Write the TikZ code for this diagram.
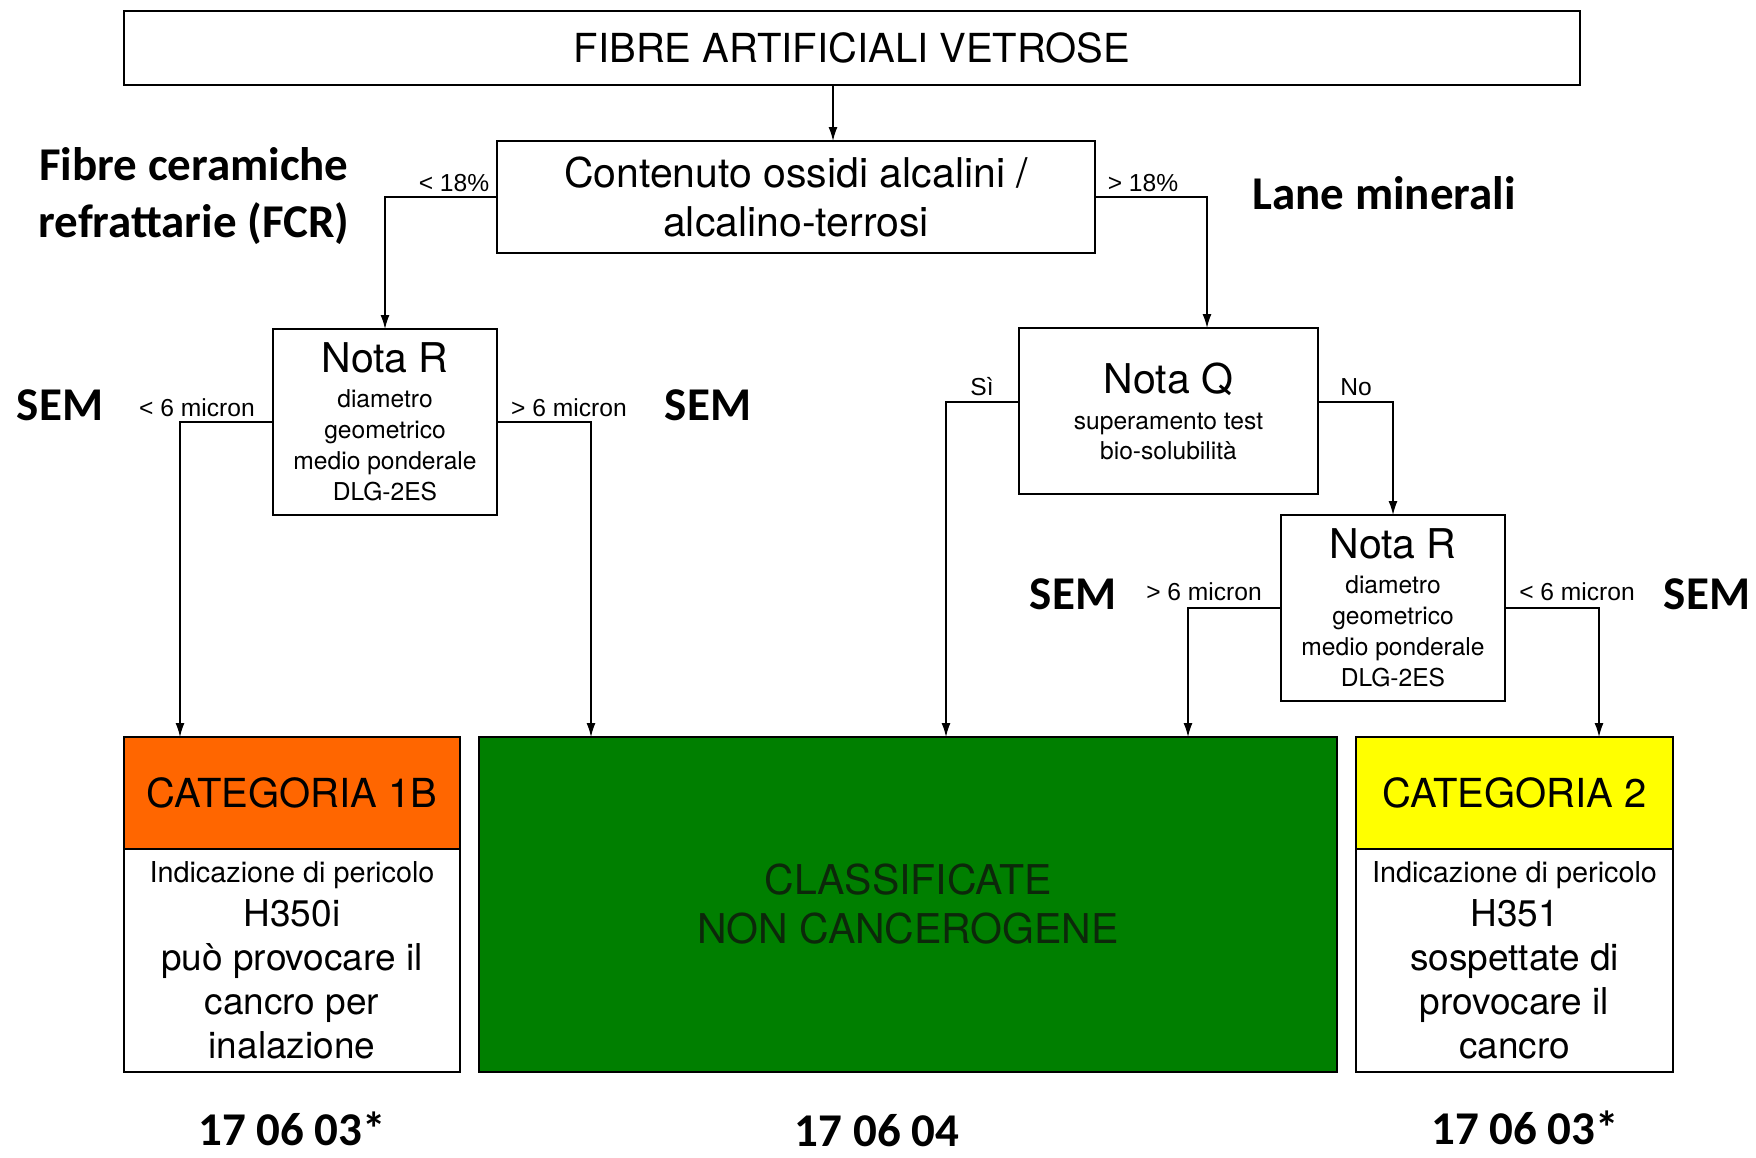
\documentclass[tikz,border=0pt]{standalone}
\usepackage{fontspec}
\setmainfont{TeX Gyre Heros}
\newfontfamily\calibri{Carlito}
\newfontfamily\arial{Liberation Sans}
\usepackage{xcolor}
\usetikzlibrary{arrows.meta,positioning}
\definecolor{catorange}{RGB}{255,102,0}
\definecolor{catgreen}{RGB}{0,127,0}
\definecolor{catyellow}{RGB}{255,255,0}
\definecolor{greentext}{RGB}{12,40,10}
\newcommand{\fs}[2]{\fontsize{#1}{#2}\selectfont}

\begin{document}
\begin{tikzpicture}[x=0.5pt,y=-0.5pt,
 box/.style={draw,line width=0.9pt,inner sep=0pt,outer sep=0pt,align=center},
 arr/.style={-{Latex[length=7pt,width=4.5pt]},line width=0.7pt},
 lbl/.style={inner sep=0pt,font=\arial\fs{12.3}{14}},
 tag/.style={inner sep=0pt,align=center,font=\calibri\bfseries\fs{23.5}{28.5}},
 code/.style={inner sep=0pt,font=\calibri\bfseries\fs{23.5}{28.5}}]
\useasboundingbox[fill=white] (0,0) rectangle (1756,1157);
% boxes
\node[box,minimum width=728pt,minimum height=37pt,font=\fs{20}{24}] (top) at (852,48) {FIBRE ARTIFICIALI VETROSE};
\node[box,minimum width=299pt,minimum height=56pt,font=\fs{20.5}{24.5}] (cont) at (796,197) {Contenuto ossidi alcalini /\\alcalino-terrosi};
\node[box,minimum width=112pt,minimum height=93pt,font=\fs{12.3}{15.5}] (nrl) at (385,422) {{\fs{20.5}{24}Nota R}\\[2pt]diametro\\geometrico\\medio ponderale\\DLG-2ES};
\node[box,minimum width=149.5pt,minimum height=83pt,font=\fs{12.3}{15}] (nq) at (1168.5,411) {{\fs{20.5}{24}Nota Q}\\[3pt]superamento test\\bio-solubilità};
\node[box,minimum width=112pt,minimum height=93pt,font=\fs{12.3}{15.5}] (nrr) at (1393,608) {{\fs{20.5}{24}Nota R}\\[2pt]diametro\\geometrico\\medio ponderale\\DLG-2ES};
% categories
\node[box,fill=catorange,minimum width=168pt,minimum height=56pt,font=\fs{20}{24}] (c1h) at (292,793) {CATEGORIA 1B};
\node[box,below=0pt of c1h,minimum width=168pt,minimum height=111.5pt,font=\fs{18.5}{22}] (c1b) {{\fs{14.4}{17}Indicazione di pericolo}\\H350i\\può provocare il\\cancro per\\inalazione};
\node[box,fill=catgreen,minimum width=429pt,minimum height=167.5pt,font=\fs{20.5}{24.5},text=greentext] (nc) at (908,904.5) {CLASSIFICATE\\NON CANCEROGENE};
\node[box,fill=catyellow,minimum width=158.5pt,minimum height=56pt,font=\fs{20}{24}] (c2h) at (1514.5,793) {CATEGORIA 2};
\node[box,below=0pt of c2h,minimum width=158.5pt,minimum height=111.5pt,font=\fs{18.5}{22}] (c2b) {{\fs{14.4}{17}Indicazione di pericolo}\\H351\\sospettate di\\provocare il\\cancro};
% arrow ends
\coordinate (dn) at (833,141);
\coordinate (qin) at (1207,328);
\coordinate (c1in) at (180,737);
\coordinate (g1) at (591,737);
\coordinate (g2) at (946,737);
\coordinate (g3) at (1188,737);
\coordinate (c2in) at (1599,737);
% connectors
\draw[arr] (top.south -| dn) -- (dn);
\draw[arr] (cont.west) -| (nrl.north);
\draw[arr] (cont.east) -| (qin);
\draw[arr] (nrl.west) -| (c1in);
\draw[arr] (nrl.east) -| (g1);
\draw[arr] ([yshift=4.5pt]nq.west) -| (g2);
\draw[arr] ([yshift=4.5pt]nq.east) -| (nrr.north);
\draw[arr] (nrr.west) -| (g3);
\draw[arr] (nrr.east) -| (c2in);
% branch labels
\node[lbl] (lt18) at (454,183) {< 18\%};
\node[lbl] (gt18) at (1143,183) {> 18\%};
\node[lbl] (lt6a) at (197,408) {< 6 micron};
\node[lbl] (gt6a) at (569,408) {> 6 micron};
\node[lbl] (si) at (982,387) {Sì};
\node[lbl] (no) at (1356,387) {No};
\node[lbl] (gt6b) at (1204,592) {> 6 micron};
\node[lbl] (lt6b) at (1577,592) {< 6 micron};
% bold notes
\node[tag] (fcr) at (194,196) {Fibre ceramiche\\refrattarie (FCR)};
\node[tag] (lane) at (1384,193) {Lane minerali};
\node[tag] (sem1) at (60,405) {SEM};
\node[tag] (sem2) at (708,405) {SEM};
\node[tag] (sem3) at (1073,594) {SEM};
\node[tag] (sem4) at (1707,594) {SEM};
\node[code] (code1) at (292,1129) {17 06 03*};
\node[code] (code2) at (877,1131) {17 06 04};
\node[code] (code3) at (1525,1128) {17 06 03*};
\end{tikzpicture}
\end{document}
